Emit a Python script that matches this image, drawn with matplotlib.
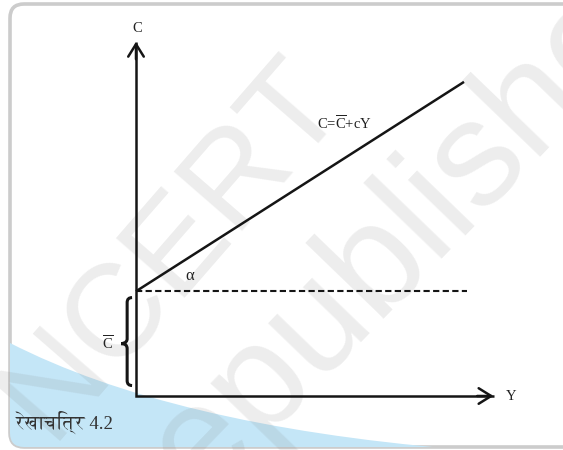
import numpy as np
import matplotlib.pyplot as plt
from matplotlib import font_manager
from matplotlib.ft2font import FT2Font
from matplotlib.patches import FancyBboxPatch, PathPatch
from matplotlib.path import Path

# --- data: consumption function C = C_bar + c*Y ---
income = np.array([0.0, 10.0])
c_bar = 3.0
mpc = 0.6
consumption = c_bar + mpc * income

axis_labels = ["Y", "C"]
eq_label = r"C=$\overline{\mathrm{C}}$+cY"
cbar_label = r"$\overline{\mathrm{C}}$"
angle_label = "α"
fig_label = "रेखाचित्र 4.2"
watermarks = ["NCERT", "republished"]

W, H = 563, 450
ORIGIN = (136, 396)      # pixel position of the origin
PX_Y, PX_C = 32.8, 34.9  # pixels per data unit


def find_font(ch, fallback="DejaVu Sans"):
    found = []
    for f in font_manager.fontManager.ttflist:
        try:
            if FT2Font(f.fname).get_char_index(ord(ch)):
                found.append(f.name)
        except Exception:
            pass
    # prefer proportional fonts over monospace ones
    found.sort(key=lambda n: ("Mono" in n, "Serif" not in n))
    return found[0] if found else fallback


plt.rcParams["mathtext.fontset"] = "custom"
plt.rcParams["mathtext.rm"] = "Liberation Serif"
plt.rcParams["mathtext.it"] = "Liberation Serif:italic"
serif = "Liberation Serif"
deva = find_font("र")

fig = plt.figure(figsize=(W / 100, H / 100), dpi=100)

# background frame in pixel coordinates
bg = fig.add_axes([0, 0, 1, 1])
bg.set_xlim(0, W)
bg.set_ylim(H, 0)
bg.axis("off")

frame = FancyBboxPatch((10, 4), 620, 443, boxstyle="round,pad=0,rounding_size=14",
                       fc="white", ec="#cccccc", lw=2.6, zorder=1)
bg.add_patch(frame)

# blue swoosh bottom-left
swoosh = Path([(10, 343), (170, 425), (455, 449), (10, 449), (10, 343)],
              [Path.MOVETO, Path.CURVE3, Path.CURVE3, Path.LINETO, Path.CLOSEPOLY])
sw = PathPatch(swoosh, fc="#c4e6f7", ec="none", zorder=2)
bg.add_patch(sw)
sw.set_clip_path(frame)

# faint watermark
bg.text(172, 248, watermarks[0], fontsize=95, family="Liberation Sans", color="0.5",
        alpha=0.14, rotation=49, ha="center", va="center", rotation_mode="anchor", zorder=3)
bg.text(408, 228, watermarks[1], fontsize=108, family="Liberation Sans", color="0.5",
        alpha=0.14, rotation=46, ha="center", va="center", rotation_mode="anchor", zorder=3)

# chart axes in data coordinates
ax = fig.add_axes([0, 0, 1, 1])
ax.patch.set_alpha(0)
ax.set_xlim(-ORIGIN[0] / PX_Y, (W - ORIGIN[0]) / PX_Y)
ax.set_ylim(-(H - ORIGIN[1]) / PX_C, ORIGIN[1] / PX_C)
ax.axis("off")

y_end, c_end = 10.9, 10.15
ax.plot([0, 0, y_end], [c_end, 0, 0], color="#151515", lw=1.8,
        solid_joinstyle="miter", solid_capstyle="butt", zorder=5)
head = dict(arrowstyle="->,head_length=0.45,head_width=0.28", lw=1.8, color="#151515",
            shrinkA=0, shrinkB=0, mutation_scale=20)
ax.annotate("", xy=(y_end, 0), xytext=(y_end - 0.5, 0), arrowprops=head, zorder=5)
ax.annotate("", xy=(0, c_end), xytext=(0, c_end - 0.5), arrowprops=head, zorder=5)

ax.annotate(axis_labels[0], (y_end, 0), xytext=(18, 0), textcoords="offset pixels",
            ha="center", va="center", fontsize=10.5, family=serif, color="#222")
ax.annotate(axis_labels[1], (0, c_end), xytext=(1, 13), textcoords="offset pixels",
            ha="center", va="center", fontsize=10.5, family=serif, color="#222")

# consumption line and autonomous level
ax.plot(income, consumption, color="#151515", lw=1.8, solid_capstyle="butt", zorder=5)
ax.plot([0, 10.1], [c_bar, c_bar], color="#151515", lw=1.5, ls=(0, (3, 1.6)), zorder=5)

ax.annotate(eq_label, (6.34, c_bar + mpc * 6.34), xytext=(0, 35), textcoords="offset pixels",
            ha="center", va="center", fontsize=10.5, family=serif, color="#222")
ax.annotate(angle_label, (0, c_bar), xytext=(54, 15), textcoords="offset pixels",
            ha="center", va="center", fontsize=12, family=serif, color="#222")

# curly brace for C_bar
bx, tip, end = -0.27, -0.45, -0.12
lo, hi, mid = 0.1 * c_bar, 0.94 * c_bar, 0.5 * c_bar
r = 0.14
brace = Path([(end, hi), (bx, hi), (bx, hi - r),
              (bx, mid + r),
              (bx, mid), (tip, mid), (tip, mid),
              (bx, mid), (bx, mid - r),
              (bx, lo + r),
              (bx, lo), (end, lo)],
             [Path.MOVETO, Path.CURVE3, Path.CURVE3,
              Path.LINETO,
              Path.CURVE4, Path.CURVE4, Path.CURVE4,
              Path.CURVE3, Path.CURVE3,
              Path.LINETO,
              Path.CURVE3, Path.CURVE3])
ax.add_patch(PathPatch(brace, fc="none", ec="#151515", lw=2.2, zorder=5))
ax.annotate(cbar_label, (0, mid), xytext=(-28, 0), textcoords="offset pixels",
            ha="center", va="center", fontsize=10.5, family=serif, color="#222")

bg.text(17, 422, fig_label, fontsize=13.5, family=[serif, deva], color="#333",
        ha="left", va="center", zorder=6)

fig.savefig("out.png", dpi=100)
